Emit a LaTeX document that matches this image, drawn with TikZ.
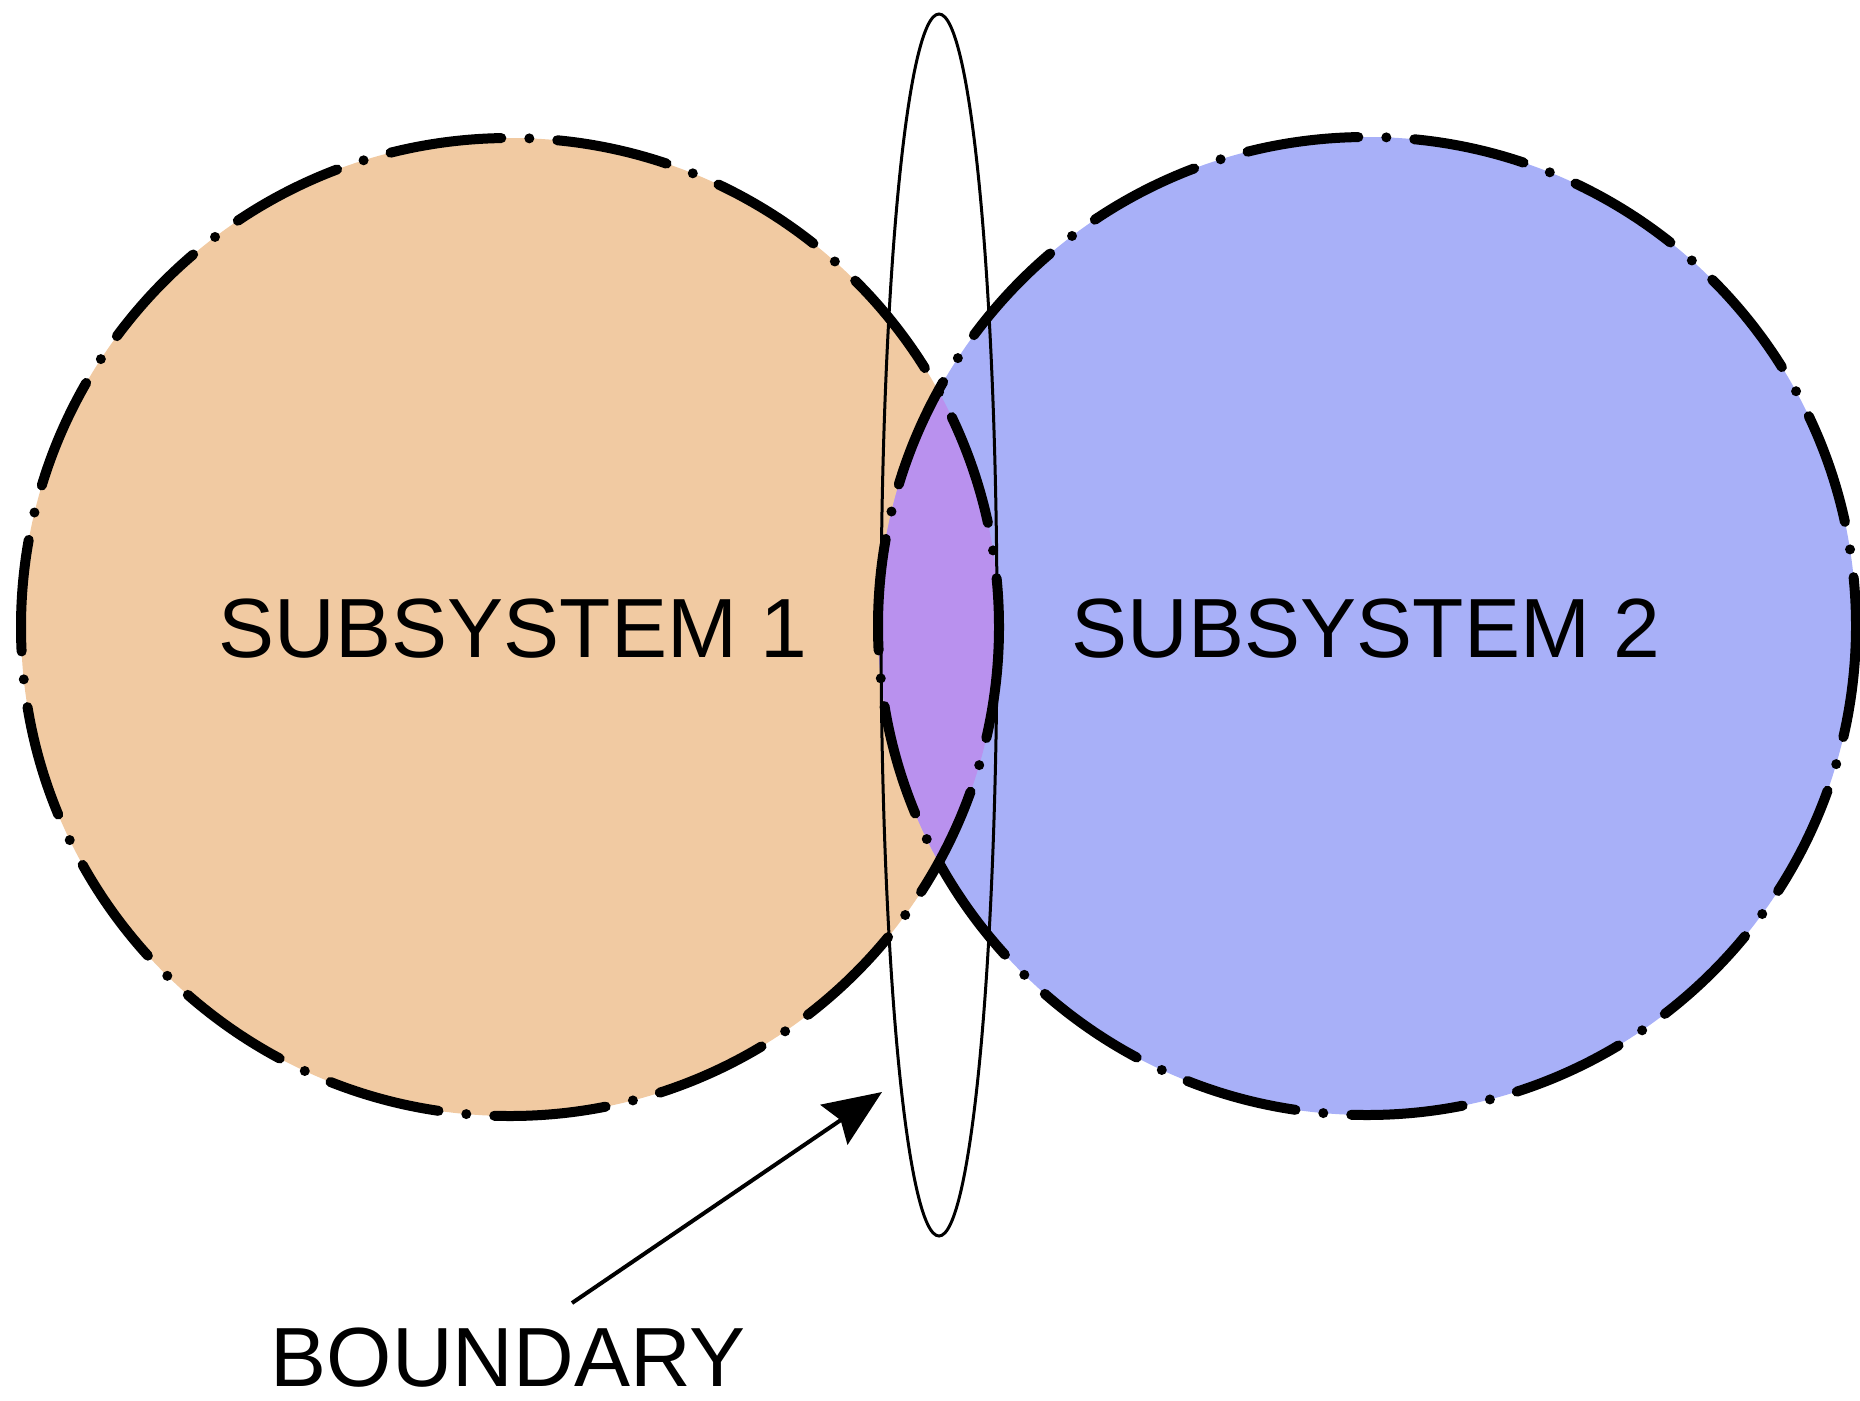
\documentclass[tikz,border=0pt]{standalone}
\usepackage{fontspec}
\setmainfont{Liberation Sans}
\usetikzlibrary{arrows.meta}

\definecolor{peach}{RGB}{241,202,162}
\definecolor{lavender}{RGB}{168,176,248}
\definecolor{violet}{RGB}{185,145,238}

\tikzset{every picture/.style={line width=0.75pt},
  subsys/.style={line width=10pt, line cap=round, dash pattern=on 112pt off 28pt on 0pt off 28pt},
  lbl/.style={inner sep=0pt, font=\fontsize{84}{90}\selectfont}}

\begin{document}
\begin{tikzpicture}[x=1pt,y=1pt,yscale=-1,xscale=1]
\useasboundingbox (0,0) rectangle (1860,1400);

%Shape: Circle fills
\fill [peach] (510,627) circle [radius=489];
\fill [lavender] (1367,626) circle [radius=489];
\begin{scope}
\clip (510,627) circle [radius=489];
\fill [violet] (1367,626) circle [radius=489];
\end{scope}

%Shape: Circle borders
\draw [subsys] (510,627) circle [radius=489];
\draw [subsys] (1367,626) circle [radius=489];

%Shape: Ellipse
\draw [line width=3pt] (939,625) ellipse [x radius=58, y radius=611];

% Text Node
\node [lbl] (sub1) at (513,629) {SUBSYSTEM 1};
% Text Node
\node [lbl] (sub2) at (1366,629) {SUBSYSTEM 2};
% Text Node
\node [lbl] (bnd) at (508,1358) {BOUNDARY};

%Straight Lines
\coordinate (tail) at (572,1303);
\coordinate (tip) at (882,1092);
\draw [line width=4pt, -{Stealth[length=58pt,width=48pt,inset=8pt]}] (tail) -- (tip);

\end{tikzpicture}
\end{document}
